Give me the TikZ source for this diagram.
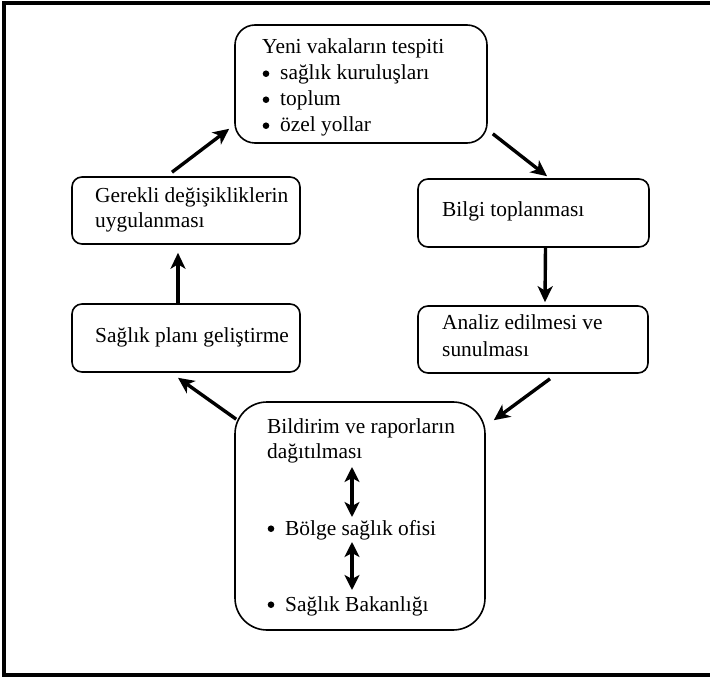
\documentclass[tikz,border=0pt]{standalone}
\usepackage{fontspec}
\setmainfont{Liberation Serif}
\usetikzlibrary{arrows.meta,calc}
% list bullet: a filled dot followed by a fixed indent
\newcommand\bulletitem{\makebox[18pt][l]{\kern0.5pt\raisebox{3pt}{\tikz\fill (0,0) circle (3.3pt);}}}
\begin{document}
\begin{tikzpicture}[x=1pt,y=-1pt,
  box/.style={draw,line width=1.6pt,inner sep=0pt},
  txt/.style={anchor=base west,inner sep=0pt,font=\fontsize{21.4}{26}\selectfont},
  flow/.style={line width=3.4pt,-{Stealth[length=16pt,width=15pt,inset=4.5pt]}},
  twoway/.style={line width=3.4pt,{Stealth[length=15pt,width=15pt,inset=4pt]}-{Stealth[length=15pt,width=15pt,inset=4pt]}}]
\useasboundingbox (0,0) rectangle (710,679);

% outer frame (open on the right)
\draw[line width=4pt] (710,3) -- (4,3) -- (4,675) -- (710,675);

% boxes
\node[box,rounded corners=20pt,minimum width=252pt,minimum height=118pt] (T) at (361,84) {};
\node[box,rounded corners=10pt,minimum width=231pt,minimum height=68pt] (B) at (533.5,213) {};
\node[box,rounded corners=10pt,minimum width=230pt,minimum height=67pt] (A) at (533,339.5) {};
\node[box,rounded corners=32pt,minimum width=250pt,minimum height=228pt] (D) at (360,516) {};
\node[box,rounded corners=10pt,minimum width=228pt,minimum height=68pt] (S) at (186,338) {};
\node[box,rounded corners=10pt,minimum width=228pt,minimum height=67pt] (G) at (186,210.5) {};

% texts
\node[txt] (t1) at (262,54) {Yeni vakaların tespiti};
\node[txt] (t2) at (262,80) {\bulletitem sağlık kuruluşları};
\node[txt] (t3) at (262,106) {\bulletitem toplum};
\node[txt] (t4) at (262,132) {\bulletitem özel yollar};

\node[txt] (b1) at (442,217) {Bilgi toplanması};

\node[txt] (a1) at (442,330) {Analiz edilmesi ve};
\node[txt] (a2) at (442,356) {sunulması};

\node[txt] (g1) at (95,203) {Gerekli değişikliklerin};
\node[txt] (g2) at (95,228) {uygulanması};

\node[txt] (s1) at (95,342) {Sağlık planı geliştirme};

\node[txt] (d1) at (267,433) {Bildirim ve raporların};
\node[txt] (d2) at (267,458) {dağıtılması};
\node[txt] (d3) at (267,535) {\bulletitem Bölge sağlık ofisi};
\node[txt] (d4) at (267,611) {\bulletitem Sağlık Bakanlığı};

% cycle arrows
\draw[flow] ($(G.north)+(-14,-4)$) -- ($(T.south west)+(-5,-15)$);
\draw[flow] ($(T.south east)+(5,-10)$) -- ($(B.north)+(13.5,-2)$);
\draw[flow] ($(B.south)+(12,0)$) -- ($(A.north)+(12,-3)$);
\draw[flow] ($(A.south)+(17,5)$) -- ($(D.north east)+(8,19)$);
\draw[flow] ($(D.north west)+(2,18)$) -- ($(S.south)+(-8,5)$);
\draw[flow] ($(S.north)+(-8,0)$) -- ($(G.south)+(-8,8)$);

% two-way arrows inside the reporting box
\draw[twoway] ($(d2.base west)+(85,9)$) -- ($(d3.base west)+(85,-18)$);
\draw[twoway] ($(d3.base west)+(85,7)$) -- ($(d4.base west)+(85,-21)$);
\end{tikzpicture}
\end{document}
